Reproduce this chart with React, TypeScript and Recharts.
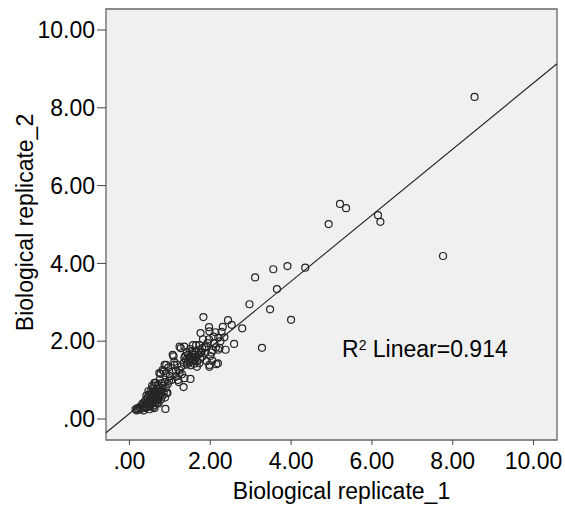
import {
  ScatterChart,
  Scatter,
  XAxis,
  YAxis,
  ReferenceArea,
  ReferenceLine,
  ReferenceDot,
} from "recharts";

// values, grouped by where they sit on the plot
const lowCluster: [number, number][] = [
  [0.15, 0.25], [0.18, 0.22], [0.2, 0.28], [0.25, 0.3], [0.22, 0.24], [0.28, 0.26],
  [0.3, 0.35], [0.33, 0.4], [0.35, 0.3], [0.38, 0.45], [0.4, 0.38], [0.42, 0.5],
  [0.4, 0.28], [0.45, 0.33], [0.45, 0.55], [0.48, 0.42], [0.48, 0.62], [0.5, 0.32],
  [0.5, 0.48], [0.52, 0.58], [0.52, 0.7], [0.55, 0.4], [0.55, 0.52], [0.55, 0.65],
  [0.57, 0.78], [0.58, 0.45], [0.58, 0.6], [0.6, 0.35], [0.6, 0.55], [0.6, 0.72],
  [0.62, 0.5], [0.62, 0.85], [0.63, 0.62], [0.65, 0.42], [0.65, 0.68], [0.65, 0.93],
  [0.67, 0.55], [0.68, 0.78], [0.7, 0.48], [0.7, 0.62], [0.7, 0.88], [0.72, 0.7],
  [0.72, 0.4], [0.74, 0.58], [0.75, 0.8], [0.75, 1.02], [0.77, 0.66], [0.78, 0.5],
  [0.8, 0.75], [0.8, 0.92], [0.82, 0.6], [0.84, 0.85], [0.85, 0.7], [0.87, 0.95],
  [0.88, 0.55], [0.9, 0.8], [0.92, 0.67], [0.95, 0.9], [0.89, 0.26], [0.69, 0.41],
  [0.5, 0.25], [0.35, 0.22], [0.42, 0.6], [0.58, 0.3], [0.62, 0.28], [0.38, 0.32],
  [0.47, 0.72], [0.53, 0.36], [0.66, 0.5], [0.56, 0.85],
];

const lowerMid: [number, number][] = [
  [0.77, 1.16], [0.85, 1.23], [0.82, 1.26], [0.87, 1.39], [0.91, 1.39], [0.96, 1.32],
  [0.74, 1.18], [0.91, 1.18], [1.11, 1.39], [0.62, 0.93], [0.94, 0.67], [1.04, 1.0],
  [1.16, 1.09], [1.24, 1.26], [1.09, 1.61], [1.07, 1.65], [1.11, 1.47], [1.24, 1.18],
  [1.36, 1.05], [1.34, 0.82], [1.0, 1.1], [1.2, 1.0], [1.15, 1.25], [1.05, 1.22],
  [0.98, 0.98], [1.28, 1.35], [1.3, 1.15], [1.18, 1.4], [1.22, 0.95],
];

const midCluster: [number, number][] = [
  [1.27, 1.82], [1.24, 1.86], [1.36, 1.86], [1.57, 1.9], [1.73, 1.9], [1.65, 1.9],
  [1.4, 1.52], [1.48, 1.57], [1.36, 1.57], [1.51, 1.03], [1.67, 1.34], [1.57, 1.69],
  [1.76, 1.69], [1.73, 1.43], [1.35, 1.45], [1.38, 1.62], [1.42, 1.4], [1.45, 1.5],
  [1.45, 1.65], [1.48, 1.45], [1.5, 1.55], [1.52, 1.62], [1.52, 1.38], [1.55, 1.5],
  [1.55, 1.75], [1.58, 1.58], [1.6, 1.42], [1.6, 1.65], [1.62, 1.52], [1.63, 1.72],
  [1.65, 1.6], [1.68, 1.48], [1.7, 1.65], [1.72, 1.78], [1.75, 1.55], [1.78, 1.72],
  [1.8, 1.6], [1.42, 1.72], [1.5, 1.8], [1.8, 1.82],
];

const upperMid: [number, number][] = [
  [1.83, 2.62], [1.97, 2.36], [1.76, 2.21], [1.98, 2.25], [2.13, 2.23], [2.2, 2.09],
  [1.82, 2.05], [1.97, 2.05], [2.38, 1.78], [2.15, 1.41], [1.98, 1.34], [1.91, 1.49],
  [2.05, 1.5], [2.2, 1.78], [2.03, 1.71], [2.14, 1.84], [1.86, 1.84], [1.9, 1.86],
  [2.06, 1.77], [2.23, 1.83], [1.98, 1.39], [2.19, 1.43], [2.31, 2.37], [2.28, 2.24],
  [2.44, 2.54], [2.53, 2.42], [2.59, 1.93], [2.79, 2.33], [2.1, 1.95], [2.0, 1.62],
  [2.25, 2.0], [1.88, 1.7], [1.93, 1.95], [2.08, 2.12], [2.35, 2.1],
];

const highPoints: [number, number][] = [
  [2.97, 2.95], [3.48, 2.82], [4.0, 2.55], [3.28, 1.83], [3.11, 3.64], [3.65, 3.34],
  [3.56, 3.85], [3.91, 3.93], [4.35, 3.89], [4.93, 5.01], [5.21, 5.53], [5.36, 5.42],
  [6.15, 5.24], [6.21, 5.07], [7.76, 4.19], [8.54, 8.28],
];

const xTicks = [0, 2, 4, 6, 8, 10];
const yTicks = [0, 2, 4, 6, 8, 10];
const xDomain: [number, number] = [-0.58, 10.58];
const yDomain: [number, number] = [-0.54, 10.54];

// fit line as drawn in the picture
const fitIntercept = 0.14;
const fitSlope = 0.85;
const r2Value = "0.914";

const points = [...lowCluster, ...lowerMid, ...midCluster, ...upperMid, ...highPoints].map(
  ([x, y]) => ({ x, y })
);

const font = "'Liberation Sans', Arial, sans-serif";

const fmt = (v: number) => (v === 0 ? ".00" : v.toFixed(2));

const OpenCircle = (props: any) => (
  <circle cx={props.cx} cy={props.cy} r={3.5} fill="none" stroke="#262626" strokeWidth={1.2} />
);

export default function App() {
  return (
    <div style={{ position: "absolute", left: 0, top: 0, background: "#fff" }}>
      <ScatterChart width={565} height={514} margin={{ top: 9, right: 8, bottom: 0, left: 0 }}>
        <ReferenceArea
          x1={xDomain[0]}
          x2={xDomain[1]}
          y1={yDomain[0]}
          y2={yDomain[1]}
          fill="#f0f0f0"
          fillOpacity={1}
          stroke="#666"
          strokeWidth={1.3}
        />
        <XAxis
          type="number"
          dataKey="x"
          domain={xDomain}
          ticks={xTicks}
          allowDataOverflow
          tickFormatter={fmt}
          axisLine={false}
          tickLine={{ stroke: "#444" }}
          tickSize={5}
          tickMargin={8}
          height={74}
          tick={{ fill: "#000", fontSize: 23, fontFamily: font }}
          label={{
            content: (p: any) => {
              const vb = p.viewBox;
              return (
                <text
                  x={vb.x + vb.width / 2 + 10}
                  y={vb.y + 59}
                  textAnchor="middle"
                  fontSize={23}
                  fontFamily={font}
                  fill="#000"
                >
                  Biological replicate_1
                </text>
              );
            },
          }}
        />
        <YAxis
          type="number"
          dataKey="y"
          domain={yDomain}
          ticks={yTicks}
          allowDataOverflow
          tickFormatter={fmt}
          axisLine={false}
          tickLine={{ stroke: "#444" }}
          tickSize={9}
          tickMargin={2}
          width={106}
          tick={{ fill: "#000", fontSize: 23, fontFamily: font }}
          label={{
            content: (p: any) => {
              const vb = p.viewBox;
              const cy = vb.y + vb.height / 2 - 2;
              return (
                <text
                  x={33}
                  y={cy}
                  transform={`rotate(-90, 33, ${cy})`}
                  textAnchor="middle"
                  fontSize={23}
                  fontFamily={font}
                  fill="#000"
                >
                  Biological replicate_2
                </text>
              );
            },
          }}
        />
        <ReferenceLine
          segment={[
            { x: xDomain[0], y: fitIntercept + fitSlope * xDomain[0] },
            { x: xDomain[1], y: fitIntercept + fitSlope * xDomain[1] },
          ]}
          stroke="#222"
          strokeWidth={1.1}
        />
        <Scatter data={points} shape={OpenCircle} isAnimationActive={false} />
        <ReferenceDot
          x={5.26}
          y={1.59}
          r={0}
          fill="none"
          stroke="none"
          label={{
            content: (p: any) => {
              const vb = p.viewBox;
              return (
                <text x={vb.x} y={vb.y} fontSize={23} fontFamily={font} fill="#000">
                  <tspan>R</tspan>
                  <tspan fontSize={14} dy={-7}>2</tspan>
                  <tspan dy={7}>{` Linear=${r2Value}`}</tspan>
                </text>
              );
            },
          }}
        />
      </ScatterChart>
    </div>
  );
}
